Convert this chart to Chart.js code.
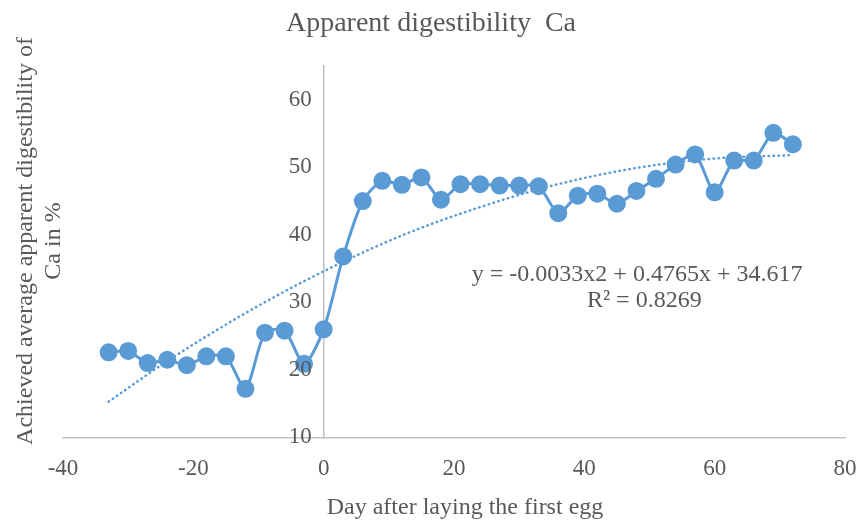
<!DOCTYPE html>
<html>
<head>
<meta charset="utf-8">
<script src="https://cdn.jsdelivr.net/npm/chart.js@4.4.1/dist/chart.umd.min.js"></script>
<style>
  html, body { margin: 0; padding: 0; background: #fff; }
  #wrap { width: 861px; height: 524px; }
</style>
</head>
<body>
<div id="wrap"><canvas id="caChart" width="861" height="524"></canvas></div>
<script>
// day after laying the first egg
const days = [-33, -30, -27, -24, -21, -18, -15, -12, -9, -6, -3, 0, 3, 6, 9, 12, 15, 18,
    21, 24, 27, 30, 33, 36, 39, 42, 45, 48, 51, 54, 57, 60, 63, 66, 69, 72];
// achieved apparent digestibility of Ca (%)
const digestibility = [22.6, 22.8, 21.0, 21.5, 20.7, 22.0, 22.0, 17.2, 25.5, 25.8, 20.9, 26.0,
    36.8, 45.0, 48.0, 47.4, 48.5, 45.2, 47.5, 47.5, 47.3, 47.3, 47.2, 43.2, 45.8, 46.1,
    44.6, 46.5, 48.3, 50.4, 51.9, 46.3, 51.0, 51.0, 55.1, 53.4];
// polynomial trendline
const trendDays = [-33, -24, -12, 0, 12, 24, 36, 48, 60, 72];
const trendValues = [15.3, 21.3, 28.4, 34.6, 39.9, 44.1, 47.5, 49.9, 51.3, 51.8];

const xTicks = [-40, -20, 0, 20, 40, 60, 80];
const yTicks = [10, 20, 30, 40, 50, 60];

const textColor = '#595959';
const serif = "'Liberation Serif', 'Times New Roman', serif";
const blue = '#5b9bd5';

// title, y tick labels (left of the axis crossing at x=0), axis titles, trendline equation
const labelsPlugin = {
    id: 'labels',
    afterDraw(chart) {
        const c = chart.ctx;
        const xs = chart.scales.x, ys = chart.scales.y;
        c.save();
        c.fillStyle = textColor;
        c.textBaseline = 'middle';

        c.textAlign = 'center';
        c.font = '28px ' + serif;
        c.fillText('Apparent digestibility  Ca', 431, 24);

        // y ticks
        c.font = '23px ' + serif;
        c.textAlign = 'right';
        const axisX = xs.getPixelForValue(0);
        yTicks.forEach(v => c.fillText(String(v), axisX - 12, ys.getPixelForValue(v)));

        c.textAlign = 'center';
        c.font = '24px ' + serif;
        // x title
        c.fillText('Day after laying the first egg', 465, 508);

        // y title, two rotated lines
        c.save();
        c.translate(26, 241);
        c.rotate(-Math.PI / 2);
        c.fillText('Achieved average apparent digestibility of', 0, 0);
        c.fillText('Ca in %', 0, 28);
        c.restore();

        // equation
        c.fillText('y = -0.0033x2 + 0.4765x + 34.617', xs.getPixelForValue(48.1), ys.getPixelForValue(34.1));
        c.fillText('R\u00b2 = 0.8269', xs.getPixelForValue(49.2), ys.getPixelForValue(30.3));
        c.restore();
    }
};

new Chart(document.getElementById('caChart'), {
    type: 'scatter',
    data: {
        datasets: [{
            label: 'Ca',
            data: days.map((d, i) => ({ x: d, y: digestibility[i] })),
            showLine: true,
            borderColor: blue,
            backgroundColor: blue,
            borderWidth: 3,
            pointRadius: 7.5,
            pointHoverRadius: 7.5,
            tension: 0.25,
            order: 1
        }, {
            label: 'Trend',
            data: trendDays.map((d, i) => ({ x: d, y: trendValues[i] })),
            showLine: true,
            borderColor: blue,
            borderWidth: 2.5,
            borderDash: [0.5, 4.5],
            borderCapStyle: 'round',
            pointRadius: 0,
            cubicInterpolationMode: 'monotone',
            order: 2
        }]
    },
    options: {
        responsive: false,
        animation: false,
        layout: { padding: { left: 63, right: 0, top: 66, bottom: 23 } },
        plugins: {
            legend: { display: false },
            tooltip: { enabled: false },
            title: { display: false }
        },
        scales: {
            x: {
                type: 'linear',
                min: -40, max: 80,
                afterBuildTicks: s => { s.ticks = xTicks.map(v => ({ value: v })); },
                afterFit: s => { s.paddingRight = 16; },
                grid: { display: false, drawTicks: false },
                border: { display: true, color: '#bfbfbf', width: 1.5 },
                ticks: { color: textColor, padding: 18, font: { family: serif, size: 23 } }
            },
            y: {
                type: 'linear',
                position: { x: 0 },
                min: 10, max: 65,
                afterBuildTicks: s => { s.ticks = yTicks.map(v => ({ value: v })); },
                grid: { display: false, drawTicks: false },
                border: { display: true, color: '#bfbfbf', width: 1.5 },
                ticks: { display: false }
            }
        }
    },
    plugins: [labelsPlugin]
});
</script>
</body>
</html>
